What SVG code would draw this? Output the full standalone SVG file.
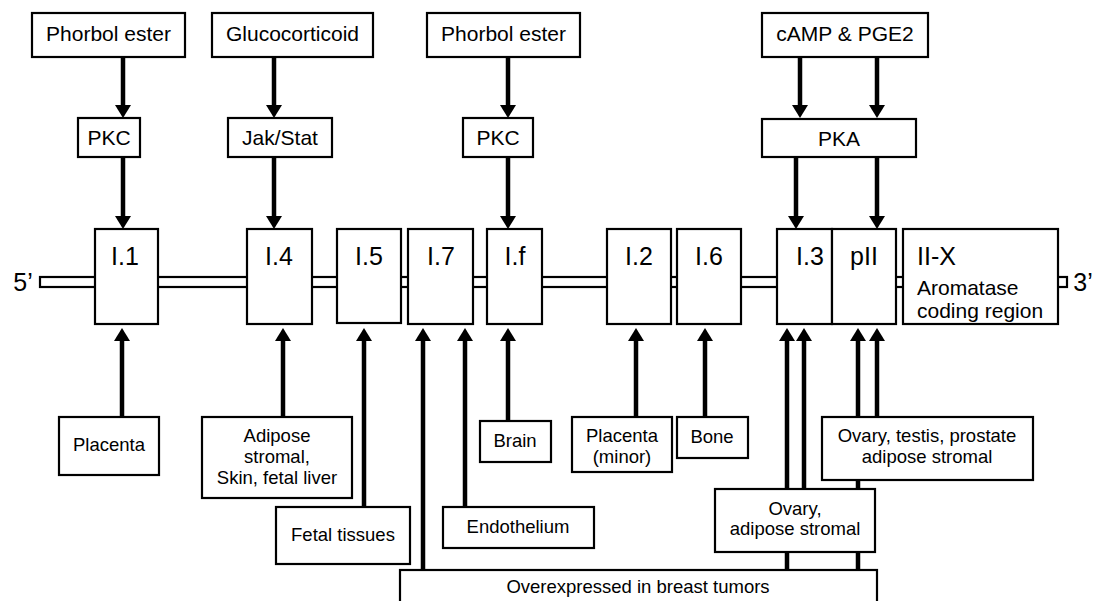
<svg xmlns="http://www.w3.org/2000/svg" width="1096" height="601" viewBox="0 0 1096 601">
<style>
.b{fill:#fff;stroke:#000;stroke-width:2.2}
.t{font-family:"Liberation Sans",Arial,sans-serif;fill:#000;text-anchor:middle}
.top{font-size:21px}
.pr{font-size:25px}
.lb{font-size:18.5px}
.c{stroke:#000;stroke-width:4.5;fill:none;marker-end:url(#ah)}
</style>
<defs>
<marker id="ah" markerUnits="userSpaceOnUse" viewBox="0 0 13 16" refX="7" refY="8" markerWidth="13" markerHeight="16" orient="auto">
<path d="M0,0 L13,8 L0,16 z" fill="#000"/>
</marker>
</defs>
<rect width="1096" height="601" fill="#fff"/>
<g id="backbone">
<rect class="b" x="40" y="277" width="1027" height="10"/>
<text class="t pr" x="23" y="291">5’</text>
<text class="t pr" x="1083" y="291">3’</text>
</g>
<g id="connectors">
<line class="c" x1="123" y1="57" x2="123" y2="112"/>
<line class="c" x1="274" y1="57" x2="274" y2="112"/>
<line class="c" x1="508" y1="57" x2="508" y2="112"/>
<line class="c" x1="800" y1="57" x2="800" y2="112"/>
<line class="c" x1="877" y1="57" x2="877" y2="112"/>
<line class="c" x1="123" y1="157" x2="123" y2="223"/>
<line class="c" x1="274" y1="157" x2="274" y2="223"/>
<line class="c" x1="508" y1="157" x2="508" y2="223"/>
<line class="c" x1="796" y1="157" x2="796" y2="223"/>
<line class="c" x1="877" y1="157" x2="877" y2="223"/>
<line class="c" x1="122" y1="417" x2="122" y2="334"/>
<line class="c" x1="283" y1="417" x2="283" y2="334"/>
<line class="c" x1="364" y1="507" x2="364" y2="334"/>
<line class="c" x1="423" y1="570" x2="423" y2="334"/>
<line class="c" x1="465" y1="507" x2="465" y2="334"/>
<line class="c" x1="508" y1="421" x2="508" y2="334"/>
<line class="c" x1="636" y1="417" x2="636" y2="334"/>
<line class="c" x1="705" y1="417" x2="705" y2="334"/>
<line class="c" x1="787" y1="570" x2="787" y2="334"/>
<line class="c" x1="804" y1="489" x2="804" y2="334"/>
<line class="c" x1="858" y1="570" x2="858" y2="334"/>
<line class="c" x1="877" y1="417" x2="877" y2="334"/>
</g>
<g id="phorbol1"><rect class="b" x="32" y="13" width="153" height="44"/><text class="t top" x="108.5" y="41">Phorbol ester</text></g>
<g id="glucocorticoid"><rect class="b" x="212" y="13" width="161" height="44"/><text class="t top" x="292.5" y="41">Glucocorticoid</text></g>
<g id="phorbol2"><rect class="b" x="427" y="13" width="153" height="44"/><text class="t top" x="503.5" y="41">Phorbol ester</text></g>
<g id="camp"><rect class="b" x="762" y="13" width="166" height="44"/><text class="t top" x="845" y="41">cAMP &amp; PGE2</text></g>
<g id="pkc1"><rect class="b" x="78" y="118" width="62" height="39"/><text class="t top" x="109" y="145">PKC</text></g>
<g id="jakstat"><rect class="b" x="228" y="118" width="104" height="39"/><text class="t top" x="280" y="145">Jak/Stat</text></g>
<g id="pkc2"><rect class="b" x="463" y="118" width="70" height="39"/><text class="t top" x="498" y="145">PKC</text></g>
<g id="pka"><rect class="b" x="762" y="119" width="154" height="38"/><text class="t top" x="839" y="146">PKA</text></g>
<g id="p11"><rect class="b" x="95" y="229" width="63" height="95"/><text class="t pr" x="125" y="265">I.1</text></g>
<g id="p14"><rect class="b" x="247" y="229" width="65" height="95"/><text class="t pr" x="279" y="265">I.4</text></g>
<g id="p15"><rect class="b" x="337" y="229" width="64" height="94"/><text class="t pr" x="369" y="265">I.5</text></g>
<g id="p17"><rect class="b" x="408" y="229" width="65" height="95"/><text class="t pr" x="441" y="265">I.7</text></g>
<g id="p1f"><rect class="b" x="487" y="229" width="55" height="95"/><text class="t pr" x="515" y="265">I.f</text></g>
<g id="p12"><rect class="b" x="607" y="229" width="64" height="95"/><text class="t pr" x="639" y="265">I.2</text></g>
<g id="p16"><rect class="b" x="677" y="229" width="64" height="95"/><text class="t pr" x="709" y="265">I.6</text></g>
<g id="p13"><rect class="b" x="777" y="229" width="55" height="95"/><text class="t pr" x="810" y="265">I.3</text></g>
<g id="pII"><rect class="b" x="832" y="229" width="64" height="95"/><text class="t pr" x="864" y="265">pII</text></g>
<g id="iix"><rect class="b" x="903" y="229" width="155" height="95"/>
<text class="t pr" x="917" y="265" style="text-anchor:start">II-X</text>
<text class="t" x="917" y="295" style="text-anchor:start;font-size:21px">Aromatase</text>
<text class="t" x="917" y="318" style="text-anchor:start;font-size:21px">coding region</text></g>
<g id="placenta"><rect class="b" x="59" y="417" width="100" height="58"/><text class="t lb" x="109" y="451">Placenta</text></g>
<g id="adipose"><rect class="b" x="202" y="417" width="150" height="81"/>
<text class="t lb" x="277" y="442">Adipose</text><text class="t lb" x="277" y="463">stromal,</text><text class="t lb" x="277" y="484">Skin, fetal liver</text></g>
<g id="fetal"><rect class="b" x="276" y="507" width="134" height="57"/><text class="t lb" x="343" y="541">Fetal tissues</text></g>
<g id="endothelium"><rect class="b" x="443" y="507" width="151" height="41"/><text class="t lb" x="518" y="533">Endothelium</text></g>
<g id="brain"><rect class="b" x="480" y="421" width="71" height="41"/><text class="t lb" x="515" y="447">Brain</text></g>
<g id="placentaminor"><rect class="b" x="572" y="417" width="100" height="55"/>
<text class="t lb" x="622" y="442">Placenta</text><text class="t lb" x="622" y="463">(minor)</text></g>
<g id="bone"><rect class="b" x="677" y="417" width="71" height="41"/><text class="t lb" x="712" y="443">Bone</text></g>
<g id="ovarytestis"><rect class="b" x="822" y="417" width="211" height="63"/>
<text class="t lb" x="927" y="442">Ovary, testis, prostate</text><text class="t lb" x="927" y="463">adipose stromal</text></g>
<g id="ovaryadipose"><rect class="b" x="715" y="489" width="160" height="63"/>
<text class="t lb" x="795" y="515">Ovary,</text><text class="t lb" x="795" y="535">adipose stromal</text></g>
<g id="overexpressed"><rect class="b" x="400" y="570" width="477" height="40"/><text class="t lb" x="638" y="593">Overexpressed in breast tumors</text></g>
</svg>
